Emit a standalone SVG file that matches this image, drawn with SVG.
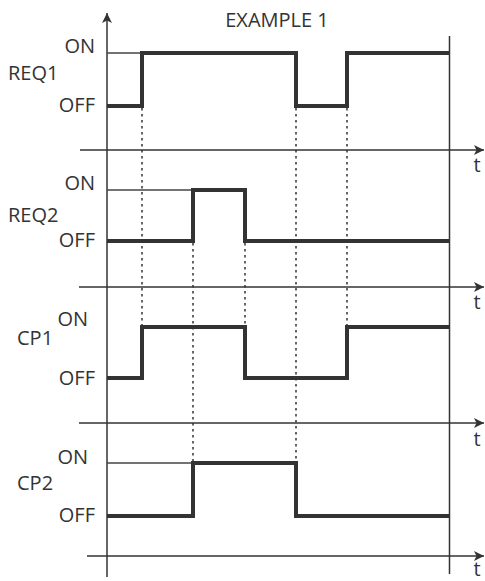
<svg xmlns="http://www.w3.org/2000/svg" width="485" height="581" viewBox="0 0 485 581">
<style>
  text { font-family: "Open Sans", "Noto Sans", "DejaVu Sans", sans-serif; font-size: 20px; fill: #333; }
  .lbl { text-anchor: end; }
  .t { text-anchor: middle; }
  .axis { stroke: #333; stroke-width: 1.5; fill: none; }
  .ref { stroke: #444; stroke-width: 1.3; fill: none; }
  .sig { stroke: #333; stroke-width: 4; fill: none; stroke-linejoin: miter; stroke-linecap: butt; }
  .dot { stroke: #333; stroke-width: 1.5; fill: none; stroke-dasharray: 2.5 3.5; }
</style>
<defs>
  <marker id="arr" viewBox="0 0 10 10" refX="10" refY="5" markerWidth="10" markerHeight="10" markerUnits="userSpaceOnUse" orient="auto">
    <path d="M0,0 L10,5 L0,10 L2.5,5 Z" fill="#333"/>
  </marker>
</defs>
<rect width="485" height="581" fill="#fff"/>
<text x="277" y="27" class="t">EXAMPLE 1</text>
<g id="connectors">
  <line class="axis" x1="107" y1="577" x2="107" y2="13" marker-end="url(#arr)"/>
  <line class="axis" x1="449.5" y1="36" x2="449.5" y2="574"/>
  <line class="axis" x1="80" y1="150" x2="484" y2="150" marker-end="url(#arr)"/>
  <line class="axis" x1="79" y1="287" x2="484" y2="287" marker-end="url(#arr)"/>
  <line class="axis" x1="79" y1="423" x2="484" y2="423" marker-end="url(#arr)"/>
  <line class="axis" x1="87" y1="556" x2="484" y2="556" marker-end="url(#arr)"/>
  <line class="dot" x1="142" y1="108" x2="142" y2="325"/>
  <line class="dot" x1="296" y1="108" x2="296" y2="461"/>
  <line class="dot" x1="347" y1="108" x2="347" y2="325"/>
  <line class="dot" x1="193" y1="243" x2="193" y2="461"/>
  <line class="dot" x1="245" y1="243" x2="245" y2="325"/>
</g>
<g id="t-labels">
  <text x="477" y="172" class="t">t</text>
  <text x="477" y="309" class="t">t</text>
  <text x="477" y="446" class="t">t</text>
  <text x="477" y="576" class="t">t</text>
</g>
<g id="req1">
  <line class="ref" x1="107" y1="53" x2="142" y2="53"/>
  <path class="sig" d="M107,106 H142 V53 H296 V106 H347 V53 H449"/>
  <text x="95" y="53" class="lbl">ON</text>
  <text x="8" y="80">REQ1</text>
  <text x="95" y="112" class="lbl">OFF</text>
</g>
<g id="req2">
  <line class="ref" x1="107" y1="190" x2="193" y2="190"/>
  <path class="sig" d="M107,241 H193 V190 H245 V241 H449"/>
  <text x="95" y="190" class="lbl">ON</text>
  <text x="8" y="222">REQ2</text>
  <text x="95" y="247" class="lbl">OFF</text>
</g>
<g id="cp1">
  <path class="sig" d="M107,378 H142 V327 H245 V378 H347 V327 H449"/>
  <text x="88" y="326" class="lbl">ON</text>
  <text x="17" y="345">CP1</text>
  <text x="95" y="385" class="lbl">OFF</text>
</g>
<g id="cp2">
  <line class="ref" x1="107" y1="463" x2="193" y2="463"/>
  <path class="sig" d="M107,516 H193 V463 H296 V516 H449"/>
  <text x="88" y="464" class="lbl">ON</text>
  <text x="17" y="490">CP2</text>
  <text x="95" y="522" class="lbl">OFF</text>
</g>
</svg>
